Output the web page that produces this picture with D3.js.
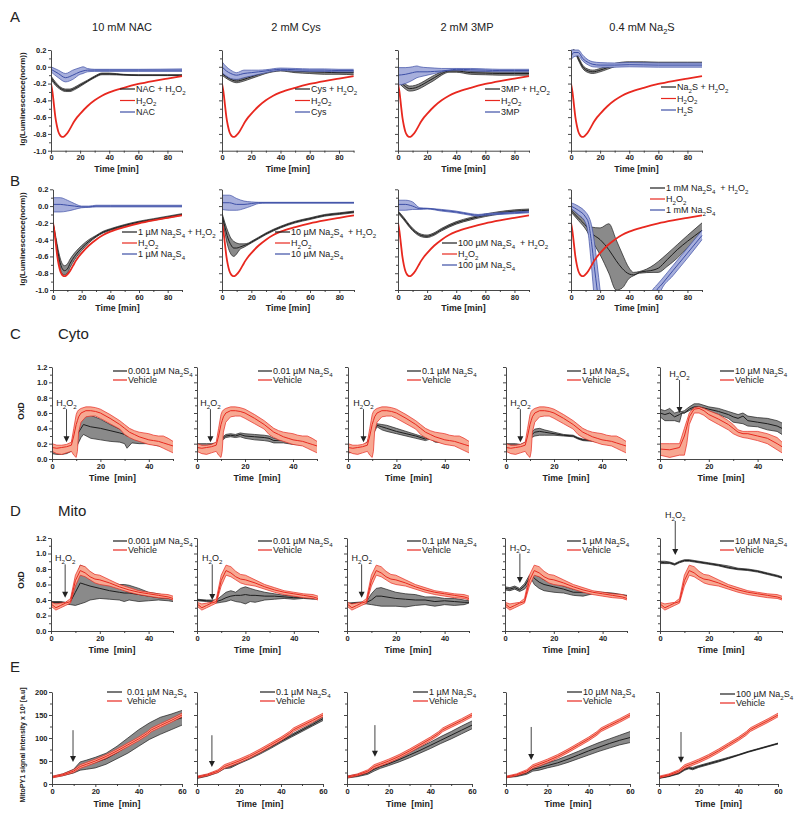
<!DOCTYPE html>
<html><head><meta charset="utf-8">
<script src="https://cdn.jsdelivr.net/npm/d3@7"></script>
<style>
body{margin:0;background:#fff}
svg{display:block}
text{font-family:"Liberation Sans",Arial,sans-serif;fill:#222}
</style>
</head><body>
<svg id="chart" width="800" height="819"></svg>
<script>
// ================= DATA =================
// tick values
const lumTicksY = [-1.0,-0.8,-0.6,-0.4,-0.2,0.0,0.2];
const lumMinorY = [-0.9,-0.7,-0.5,-0.3,-0.1,0.1];
const lumTicksX = [0,20,40,60,80];
const lumMinorX = [10,30,50,70,90];
const oxdTicksY = [0,0.2,0.4,0.6,0.8,1.0,1.2];
const oxdMinorY = [0.1,0.3,0.5,0.7,0.9,1.1];
const oxdTicksX = [0,20,40];
const oxdMinorX = [10,30,50];
const mpyTicksY = [0,50,100,150,200];
const mpyMinorY = [25,75,125,175];
const mpyTicksX = [0,20,40,60];
const mpyMinorX = [10,30,50];

// text
const titlesA = ['10 mM NAC','2 mM Cys','2 mM 3MP','0.4 mM Na_2S'];
const legendsA = [
  ['NAC + H_2O_2','H_2O_2','NAC'],
  ['Cys + H_2O_2','H_2O_2','Cys'],
  ['3MP + H_2O_2','H_2O_2','3MP'],
  ['Na_2S + H_2O_2','H_2O_2','H_2S']
];
const legendsB = [
  ['1 µM Na_2S_4 + H_2O_2','H_2O_2','1 µM Na_2S_4'],
  ['10 µM Na_2S_4  + H_2O_2','H_2O_2','10 µM Na_2S_4'],
  ['100 µM Na_2S_4  + H_2O_2','H_2O_2','100 µM Na_2S_4'],
  ['1 mM Na_2S_4  + H_2O_2','H_2O_2','1 mM Na_2S_4']
];
const concC = ['0.001','0.01','0.1','1','10'];
const concE = ['0.01','0.1','1','10','100'];

// ---- Row A / B : lg(Luminescence(norm)) vs time ; rows [t, mean, lo, hi] ----
const h2o2Lum = [[0,-0.2],[1,-0.3],[2,-0.45],[3,-0.6],[4,-0.7],[5,-0.77],[6,-0.81],[7,-0.83],[8,-0.835],[9,-0.83],[10,-0.815],[12,-0.77],[14,-0.71],[16,-0.65],[18,-0.6],[20,-0.56],[25,-0.47],[30,-0.4],[35,-0.345],[40,-0.305],[50,-0.25],[60,-0.205],[70,-0.17],[80,-0.14],[90,-0.11]];

const nacH2o2 = [[0,-0.13,-0.15,-0.11],[3,-0.2,-0.22,-0.18],[6,-0.25,-0.265,-0.235],[10,-0.28,-0.295,-0.265],[13,-0.28,-0.295,-0.265],[16,-0.26,-0.275,-0.245],[20,-0.22,-0.235,-0.205],[25,-0.17,-0.18,-0.16],[30,-0.12,-0.13,-0.11],[35,-0.085,-0.095,-0.075],[40,-0.085,-0.095,-0.075],[50,-0.095,-0.1,-0.09],[60,-0.1,-0.105,-0.095],[70,-0.1,-0.105,-0.095],[80,-0.1,-0.105,-0.095],[90,-0.1,-0.105,-0.095]];
const nacOnly = [[0,-0.03,-0.06,0.0],[5,-0.08,-0.13,-0.04],[10,-0.13,-0.18,-0.08],[15,-0.1,-0.15,-0.04],[20,-0.06,-0.09,-0.01],[22,-0.05,-0.08,0.0],[25,-0.04,-0.06,-0.02],[30,-0.04,-0.055,-0.03],[40,-0.04,-0.055,-0.03],[60,-0.04,-0.055,-0.03],[90,-0.04,-0.055,-0.025]];

const cysH2o2 = [[0,-0.08,-0.1,-0.05],[5,-0.14,-0.16,-0.12],[10,-0.17,-0.19,-0.15],[15,-0.15,-0.17,-0.13],[20,-0.12,-0.14,-0.1],[25,-0.09,-0.11,-0.07],[30,-0.06,-0.08,-0.045],[35,-0.045,-0.06,-0.035],[40,-0.04,-0.05,-0.03],[50,-0.05,-0.07,-0.035],[60,-0.06,-0.08,-0.04],[70,-0.065,-0.09,-0.045],[80,-0.07,-0.09,-0.05],[90,-0.07,-0.095,-0.05]];
const cysOnly = [[0,0.0,-0.07,0.06],[3,-0.05,-0.11,0.0],[6,-0.08,-0.14,-0.04],[10,-0.1,-0.15,-0.07],[15,-0.08,-0.13,-0.04],[20,-0.07,-0.11,-0.04],[25,-0.06,-0.09,-0.04],[30,-0.05,-0.07,-0.035],[40,-0.03,-0.045,-0.015],[50,-0.035,-0.05,-0.02],[60,-0.04,-0.055,-0.025],[70,-0.04,-0.055,-0.025],[80,-0.045,-0.06,-0.03],[90,-0.045,-0.06,-0.03]];

const mpH2o2 = [[0,-0.15,-0.18,-0.12],[4,-0.22,-0.25,-0.19],[8,-0.26,-0.29,-0.23],[12,-0.25,-0.28,-0.22],[16,-0.22,-0.25,-0.19],[20,-0.18,-0.21,-0.15],[25,-0.13,-0.16,-0.1],[30,-0.08,-0.1,-0.06],[35,-0.05,-0.065,-0.035],[40,-0.05,-0.065,-0.035],[50,-0.07,-0.09,-0.05],[60,-0.075,-0.095,-0.055],[70,-0.08,-0.1,-0.06],[80,-0.08,-0.1,-0.06],[90,-0.08,-0.1,-0.06]];
const mpOnly = [[0,-0.1,-0.22,-0.01],[5,-0.09,-0.2,-0.01],[10,-0.07,-0.16,0.0],[13,-0.06,-0.13,0.01],[15,-0.06,-0.12,0.0],[20,-0.06,-0.1,-0.01],[25,-0.055,-0.08,-0.015],[30,-0.05,-0.06,-0.02],[35,-0.04,-0.045,-0.02],[40,-0.03,-0.04,-0.02],[50,-0.035,-0.05,-0.02],[60,-0.04,-0.055,-0.025],[70,-0.045,-0.06,-0.03],[80,-0.045,-0.06,-0.03],[90,-0.045,-0.06,-0.03]];

const naSH2o2 = [[0,0.17,0.15,0.19],[2,0.2,0.19,0.2],[5,0.1,0.08,0.12],[8,0.0,-0.02,0.02],[12,-0.05,-0.07,-0.03],[15,-0.06,-0.08,-0.04],[20,-0.04,-0.06,-0.02],[25,-0.01,-0.03,0.01],[30,0.02,0.0,0.04],[40,0.04,0.02,0.06],[50,0.04,0.02,0.06],[60,0.035,0.015,0.055],[70,0.035,0.015,0.055],[80,0.035,0.015,0.055],[90,0.035,0.015,0.055]];
const h2sOnly = [[0,0.12,0.08,0.2],[2,0.17,0.12,0.2],[5,0.17,0.13,0.2],[8,0.1,0.07,0.14],[12,0.05,0.02,0.08],[15,0.03,0.0,0.06],[20,0.02,-0.005,0.05],[30,0.02,-0.005,0.045],[40,0.025,0.0,0.05],[60,0.02,-0.005,0.045],[90,0.02,-0.005,0.045]];

const s4_1uM_H2o2 = [[0,-0.2,-0.21,-0.19],[2,-0.4,-0.43,-0.37],[4,-0.6,-0.65,-0.55],[6,-0.73,-0.8,-0.67],[8,-0.77,-0.82,-0.71],[10,-0.75,-0.8,-0.69],[12,-0.68,-0.73,-0.63],[15,-0.6,-0.64,-0.56],[20,-0.5,-0.53,-0.47],[25,-0.42,-0.44,-0.4],[30,-0.36,-0.37,-0.35],[35,-0.31,-0.32,-0.3],[40,-0.28,-0.29,-0.27],[50,-0.23,-0.24,-0.22],[60,-0.19,-0.2,-0.18],[70,-0.16,-0.17,-0.15],[80,-0.13,-0.14,-0.12],[90,-0.1,-0.11,-0.09]];
const s4_1uM = [[0,0.02,-0.07,0.1],[5,0.02,-0.07,0.1],[10,0.01,-0.06,0.07],[15,0.0,-0.04,0.03],[20,-0.01,-0.02,0.0],[25,-0.01,-0.015,0.0],[30,0.0,-0.01,0.01],[40,0.0,-0.01,0.01],[60,0.0,-0.01,0.01],[90,0.0,-0.01,0.01]];

const s4_10uM_H2o2 = [[0,-0.1,-0.13,-0.08],[2,-0.25,-0.32,-0.2],[4,-0.38,-0.48,-0.3],[6,-0.46,-0.57,-0.38],[8,-0.5,-0.6,-0.42],[10,-0.5,-0.57,-0.44],[12,-0.49,-0.52,-0.45],[15,-0.47,-0.49,-0.45],[18,-0.45,-0.46,-0.44],[20,-0.43,-0.44,-0.42],[25,-0.38,-0.39,-0.37],[30,-0.33,-0.34,-0.32],[40,-0.25,-0.26,-0.24],[50,-0.19,-0.2,-0.18],[60,-0.15,-0.16,-0.14],[70,-0.11,-0.12,-0.1],[80,-0.09,-0.1,-0.08],[90,-0.07,-0.08,-0.06]];
const s4_10uM = [[0,0.04,-0.04,0.13],[5,0.04,-0.05,0.13],[10,0.02,-0.05,0.09],[15,0.02,-0.03,0.06],[20,0.03,0.0,0.05],[25,0.04,0.03,0.045],[30,0.04,0.035,0.045],[90,0.04,0.035,0.045]];

const s4_100uM_H2o2 = [[0,-0.07,-0.085,-0.055],[4,-0.15,-0.165,-0.135],[8,-0.24,-0.255,-0.225],[12,-0.31,-0.325,-0.295],[16,-0.35,-0.365,-0.335],[20,-0.36,-0.375,-0.345],[24,-0.34,-0.355,-0.325],[30,-0.28,-0.295,-0.265],[40,-0.2,-0.215,-0.185],[50,-0.15,-0.165,-0.135],[60,-0.11,-0.125,-0.095],[70,-0.08,-0.095,-0.065],[80,-0.06,-0.075,-0.045],[90,-0.05,-0.065,-0.035]];
const s4_100uM = [[0,0.02,-0.05,0.07],[5,0.02,-0.05,0.07],[10,0.0,-0.04,0.05],[15,-0.03,-0.04,-0.02],[20,-0.03,-0.035,-0.025],[30,-0.05,-0.06,-0.04],[40,-0.07,-0.08,-0.06],[50,-0.1,-0.11,-0.09],[55,-0.11,-0.12,-0.1],[60,-0.1,-0.11,-0.09],[70,-0.09,-0.1,-0.08],[80,-0.08,-0.09,-0.07],[90,-0.07,-0.08,-0.06]];

const s4_1mM_H2o2 = [[0,-0.05,-0.07,-0.03],[5,-0.14,-0.17,-0.1],[11,-0.25,-0.3,-0.2],[14,-0.32,-0.4,-0.25],[20,-0.4,-0.58,-0.26],[26,-0.52,-0.8,-0.21],[31,-0.65,-1.0,-0.4],[35,-0.74,-0.98,-0.56],[40,-0.81,-0.86,-0.74],[43,-0.82,-0.83,-0.79],[47,-0.79,-0.8,-0.78],[57,-0.76,-0.79,-0.7],[60,-0.74,-0.79,-0.66],[66,-0.64,-0.72,-0.57],[73,-0.52,-0.62,-0.46],[80,-0.42,-0.5,-0.35],[90,-0.29,-0.37,-0.2]];
const s4_1mM = [[0,0.0,-0.03,0.04],[5,-0.05,-0.1,0.0],[10,-0.13,-0.2,-0.07],[12,-0.2,-0.35,-0.12],[14,-0.42,-0.7,-0.22],[16,-0.72,-1.1,-0.42],[18,-1.0,-1.4,-0.7],[20,-1.3,-1.7,-1.0],[22,-1.6,-2.0,-1.3],[35,-2.0,-2.0,-2.0],[50,-1.5,-1.7,-1.3],[56,-1.13,-1.25,-1.0],[59,-1.0,-1.13,-0.94],[62,-0.94,-1.0,-0.88],[70,-0.77,-0.83,-0.71],[80,-0.56,-0.62,-0.5],[90,-0.35,-0.4,-0.29]];

// ---- Row C : Cyto OxD ----
const cytoVehicle = [[0,0.15,0.1,0.2],[2,0.14,0.07,0.18],[4,0.15,0.06,0.18],[6,0.16,0.08,0.19],[8,0.18,0.1,0.22],[9,0.3,0.05,0.4],[10,0.45,0.02,0.58],[10.5,0.5,0.1,0.62],[11,0.55,0.35,0.64],[12,0.6,0.48,0.66],[14,0.63,0.55,0.68],[16,0.63,0.56,0.68],[18,0.62,0.56,0.67],[20,0.6,0.53,0.65],[24,0.53,0.46,0.58],[28,0.45,0.39,0.5],[30,0.4,0.32,0.45],[32,0.35,0.28,0.4],[34,0.32,0.25,0.37],[36,0.29,0.23,0.35],[38,0.27,0.21,0.34],[40,0.25,0.19,0.33],[42,0.24,0.18,0.31],[44,0.23,0.17,0.3],[46,0.21,0.14,0.3],[48,0.19,0.11,0.27],[50,0.17,0.08,0.23]];
const cytoVehicle10 = [[0,0.13,0.05,0.2],[4,0.12,0.02,0.2],[8,0.15,0.05,0.2],[10,0.3,0.05,0.4],[11,0.42,0.2,0.5],[12,0.55,0.45,0.6],[14,0.65,0.6,0.67],[16,0.66,0.6,0.68],[18,0.63,0.57,0.66],[20,0.58,0.52,0.63],[24,0.52,0.45,0.58],[28,0.45,0.38,0.5],[30,0.4,0.33,0.45],[32,0.35,0.3,0.38],[34,0.33,0.28,0.36],[36,0.33,0.27,0.36],[40,0.3,0.24,0.36],[44,0.27,0.2,0.33],[48,0.2,0.12,0.28],[50,0.16,0.08,0.22]];
const cyto0001 = [[0,0.1,0.07,0.14],[2,0.1,0.06,0.15],[4,0.1,0.06,0.15],[6,0.11,0.07,0.15],[8,0.15,0.1,0.2],[10,0.3,0.15,0.45],[12,0.4,0.28,0.55],[13,0.45,0.32,0.57],[16,0.42,0.27,0.57],[20,0.4,0.25,0.52],[24,0.37,0.23,0.45],[28,0.34,0.22,0.39],[30,0.32,0.2,0.34],[31,0.3,0.14,0.33],[33,0.3,0.21,0.32],[36,0.27,0.2,0.3],[40,0.23,0.2,0.26],[44,0.21,0.17,0.23],[48,0.19,0.16,0.21],[50,0.18,0.15,0.2]];
const cyto001 = [[0,0.17,0.13,0.2],[4,0.17,0.14,0.2],[6,0.19,0.16,0.2],[8,0.19,0.17,0.21],[10,0.25,0.23,0.27],[12,0.3,0.28,0.32],[14,0.31,0.29,0.33],[16,0.3,0.28,0.32],[18,0.32,0.29,0.34],[20,0.3,0.27,0.33],[24,0.29,0.25,0.32],[28,0.28,0.24,0.31],[30,0.27,0.23,0.3],[32,0.24,0.21,0.27],[36,0.25,0.21,0.28],[40,0.22,0.19,0.25],[44,0.21,0.18,0.24],[48,0.19,0.16,0.22],[50,0.18,0.16,0.2]];
const cyto01 = [[0,0.12,0.08,0.15],[4,0.12,0.09,0.15],[6,0.13,0.1,0.16],[8,0.2,0.17,0.23],[10,0.35,0.3,0.4],[12,0.44,0.42,0.46],[14,0.42,0.38,0.45],[16,0.4,0.36,0.44],[20,0.36,0.33,0.4],[24,0.33,0.3,0.36],[28,0.3,0.27,0.32],[32,0.26,0.24,0.28],[34,0.29,0.26,0.31],[36,0.24,0.22,0.26],[40,0.23,0.21,0.25],[44,0.22,0.2,0.24],[48,0.2,0.18,0.22],[50,0.18,0.17,0.2]];
const cyto1 = [[0,0.18,0.16,0.2],[4,0.18,0.16,0.2],[6,0.17,0.15,0.19],[8,0.2,0.18,0.22],[10,0.3,0.27,0.33],[12,0.35,0.3,0.39],[14,0.36,0.31,0.4],[16,0.35,0.31,0.38],[20,0.33,0.31,0.35],[24,0.31,0.3,0.32],[28,0.3,0.29,0.31],[30,0.27,0.26,0.28],[32,0.25,0.24,0.26],[36,0.24,0.23,0.25],[40,0.22,0.21,0.23],[44,0.22,0.21,0.23],[48,0.2,0.19,0.21],[50,0.19,0.18,0.2]];
const cyto10 = [[0,0.6,0.55,0.65],[2,0.58,0.5,0.63],[4,0.6,0.5,0.66],[6,0.55,0.5,0.6],[8,0.58,0.48,0.62],[9,0.6,0.6,0.62],[10,0.6,0.6,0.63],[12,0.65,0.63,0.68],[14,0.68,0.66,0.72],[16,0.68,0.66,0.72],[20,0.65,0.62,0.68],[24,0.62,0.58,0.66],[28,0.58,0.53,0.62],[30,0.55,0.48,0.6],[32,0.53,0.47,0.58],[34,0.56,0.46,0.6],[36,0.5,0.43,0.56],[40,0.48,0.42,0.54],[44,0.46,0.38,0.53],[48,0.43,0.36,0.5],[50,0.4,0.32,0.47]];

// ---- Row D : Mito OxD ----
const mitoVehicle = [[0,0.35,0.32,0.37],[2,0.3,0.27,0.35],[4,0.33,0.3,0.36],[6,0.36,0.33,0.37],[8,0.38,0.36,0.42],[10,0.65,0.58,0.72],[12,0.78,0.72,0.85],[14,0.75,0.7,0.83],[16,0.7,0.66,0.77],[18,0.67,0.62,0.73],[20,0.66,0.6,0.72],[24,0.62,0.58,0.66],[28,0.57,0.54,0.6],[32,0.53,0.5,0.56],[36,0.5,0.47,0.52],[40,0.48,0.45,0.5],[44,0.46,0.43,0.48],[48,0.44,0.42,0.47],[50,0.42,0.4,0.45]];
const mito0001 = [[0,0.37,0.36,0.38],[4,0.37,0.36,0.38],[6,0.36,0.35,0.37],[8,0.38,0.34,0.4],[10,0.5,0.33,0.65],[12,0.62,0.35,0.85],[14,0.6,0.37,0.82],[16,0.58,0.4,0.76],[20,0.55,0.42,0.68],[24,0.52,0.41,0.63],[28,0.5,0.4,0.6],[30,0.49,0.38,0.6],[32,0.49,0.4,0.59],[36,0.47,0.38,0.55],[40,0.45,0.39,0.5],[44,0.43,0.4,0.48],[48,0.42,0.39,0.45],[50,0.41,0.38,0.43]];
const mito001 = [[0,0.4,0.39,0.41],[4,0.39,0.38,0.4],[8,0.38,0.36,0.4],[10,0.4,0.37,0.45],[12,0.43,0.38,0.5],[14,0.45,0.4,0.52],[16,0.46,0.38,0.5],[18,0.46,0.37,0.55],[20,0.47,0.35,0.57],[22,0.46,0.38,0.55],[24,0.46,0.37,0.53],[28,0.45,0.4,0.5],[32,0.45,0.41,0.48],[36,0.44,0.42,0.46],[40,0.43,0.41,0.45],[44,0.43,0.42,0.45],[48,0.42,0.41,0.44],[50,0.42,0.41,0.43]];
const mito01 = [[0,0.35,0.34,0.36],[4,0.36,0.35,0.37],[8,0.37,0.35,0.38],[10,0.4,0.34,0.48],[12,0.45,0.33,0.55],[14,0.45,0.32,0.56],[16,0.44,0.32,0.54],[20,0.42,0.32,0.5],[24,0.41,0.31,0.48],[28,0.4,0.33,0.47],[32,0.4,0.34,0.44],[36,0.38,0.32,0.44],[40,0.39,0.34,0.42],[44,0.38,0.33,0.42],[48,0.37,0.34,0.4],[50,0.37,0.36,0.39]];
const mito1 = [[0,0.55,0.53,0.57],[2,0.54,0.52,0.56],[4,0.56,0.54,0.58],[6,0.53,0.51,0.55],[8,0.58,0.54,0.61],[10,0.68,0.62,0.72],[11,0.72,0.66,0.75],[12,0.68,0.6,0.73],[14,0.63,0.55,0.7],[16,0.6,0.52,0.66],[20,0.57,0.5,0.62],[24,0.54,0.49,0.58],[28,0.5,0.46,0.54],[32,0.5,0.45,0.52],[36,0.5,0.48,0.51],[40,0.49,0.48,0.5],[44,0.48,0.47,0.49],[48,0.46,0.45,0.47],[50,0.45,0.44,0.46]];
const mito10 = [[0,0.89,0.87,0.9],[2,0.88,0.87,0.9],[4,0.88,0.87,0.89],[6,0.86,0.85,0.87],[8,0.89,0.88,0.9],[10,0.91,0.9,0.92],[12,0.91,0.9,0.92],[14,0.9,0.89,0.91],[16,0.89,0.88,0.9],[20,0.87,0.86,0.88],[24,0.85,0.84,0.86],[28,0.82,0.81,0.84],[32,0.8,0.79,0.81],[36,0.79,0.78,0.8],[40,0.77,0.76,0.78],[44,0.74,0.73,0.75],[48,0.71,0.7,0.72],[50,0.69,0.68,0.7]];

// ---- Row E : MitoPY1 signal ----
const mpyVehicle = [[0,15,13,17],[5,20,18,22],[10,28,25,31],[13,38,34,42],[16,43,39,47],[20,50,46,54],[25,60,56,64],[30,72,68,76],[35,85,81,89],[40,98,94,102],[44,110,106,114],[46,118,114,122],[50,127,123,131],[55,138,134,142],[60,150,146,154]];
const mpy001 = [[0,15,14,16],[5,20,18,22],[10,28,24,32],[13,39,30,48],[16,42,32,52],[20,47,35,58],[25,55,43,67],[30,68,55,82],[35,83,67,100],[40,100,82,118],[45,115,97,133],[50,127,108,145],[55,137,118,152],[60,144,128,160]];
const mpy01 = [[0,14,12,16],[5,19,17,21],[10,27,25,29],[13,36,33,39],[16,38,35,42],[20,47,44,50],[25,57,54,60],[30,68,65,71],[35,80,77,83],[40,93,90,96],[45,105,102,108],[50,117,114,120],[55,129,126,132],[60,142,138,146]];
const mpy1 = [[0,15,13,17],[5,18,16,21],[10,24,21,28],[13,32,28,37],[16,38,34,42],[20,44,40,48],[25,53,48,58],[30,63,57,69],[35,73,67,80],[40,84,77,91],[45,95,88,103],[50,106,98,114],[55,117,109,126],[60,128,120,137]];
const mpy10 = [[0,15,14,16],[5,18,16,20],[10,24,21,27],[13,32,28,36],[16,35,30,40],[20,40,35,46],[25,46,40,53],[30,54,47,62],[35,63,55,71],[40,72,63,81],[45,80,71,90],[50,88,78,98],[55,95,85,106],[60,101,90,114]];
const mpy100 = [[0,13,12,15],[5,17,16,19],[10,24,22,26],[13,32,30,35],[15,35,33,37],[17,33,31,36],[20,38,36,40],[25,44,42,46],[30,50,48,52],[35,56,55,58],[40,63,62,64],[45,70,69,71],[50,76,75,77],[55,82,81,83],[60,88,87,89]];

// ---- H2O2 addition arrows: [time, value at arrow top, value at tip] ----
const cytoArrows = [[6,0.65,0.22],[5.6,0.65,0.22],[6.4,0.65,0.22],[6,0.65,0.22],[8,1.03,0.6]];
const mitoArrows = [[5.8,0.86,0.43],[6.3,0.86,0.4],[6,0.86,0.43],[6.1,1.0,0.62],[6.25,1.42,0.98]];
const mpyArrows = [[9.7,117,48],[7.1,106,37],[13.4,128,59],[12.2,124,52],[11.1,113,46]];

// ================= DRAWING =================
const svg = d3.select('#chart');
const COL = {
  k:{line:'#1e1e1e', fill:'#8a8a8a'},
  r:{line:'#e8281f', fill:'#f7a892'},
  b:{line:'#3d4fa6', fill:'#a7afdc'}
};
const FONT = '"Liberation Sans",Arial,sans-serif';

function richText(g, str, x, y, size, opts) {
  opts = opts || {};
  const t = g.append('text').attr('x',x).attr('y',y).attr('font-size',size)
    .style('white-space','pre').attr('text-anchor', opts.anchor || 'start')
    .attr('font-weight', opts.weight || 'normal');
  if (opts.transform) t.attr('transform', opts.transform);
  const parts = []; const re = /_(.)/g; let last = 0, m;
  while ((m = re.exec(str))) {
    if (m.index > last) parts.push({t:str.slice(last,m.index), s:false});
    parts.push({t:m[1], s:true}); last = re.lastIndex;
  }
  if (last < str.length) parts.push({t:str.slice(last), s:false});
  let cur = 0;
  parts.forEach(p => {
    const off = p.s ? size*0.3 : 0;
    const ts = t.append('tspan').attr('dy', off - cur).text(p.t);
    if (p.s) ts.attr('font-size', size*0.68);
    cur = off;
  });
  return t;
}

let clipN = 0;
function drawPanel(p) {
  const x = d3.scaleLinear().domain(p.xd).range([p.x0, p.x1]);
  const y = d3.scaleLinear().domain(p.yd).range([p.yb, p.yt]);
  const g = svg.append('g');
  const cid = 'cl' + (clipN++);
  g.append('clipPath').attr('id', cid).append('rect')
    .attr('x', p.x0).attr('y', p.yt - 2).attr('width', p.x1 - p.x0 + 1).attr('height', p.yb - p.yt + 2);
  const pg = g.append('g').attr('clip-path', `url(#${cid})`);
  const curve = p.curve || d3.curveLinear;
  p.series.forEach(s => {
    const c = COL[s.c];
    if (s.d[0].length === 4) {
      pg.append('path').datum(s.d)
        .attr('d', d3.area().x(d => x(d[0])).y0(d => y(d[2])).y1(d => y(d[3])).curve(curve))
        .attr('fill', c.fill).attr('stroke', 'none');
      [2,3].forEach(i => pg.append('path').datum(s.d)
        .attr('d', d3.line().x(d => x(d[0])).y(d => y(d[i])).curve(curve))
        .attr('fill','none').attr('stroke', c.line).attr('stroke-width', 0.7));
    }
    pg.append('path').datum(s.d)
      .attr('d', d3.line().x(d => x(d[0])).y(d => y(d[1])).curve(curve))
      .attr('fill','none').attr('stroke', c.line).attr('stroke-width', s.w || 1);
  });
  // axes
  const axX = g.append('g').attr('transform', `translate(0,${p.yb})`)
    .call(d3.axisBottom(x).tickValues(p.xt).tickSize(3).tickSizeOuter(0).tickPadding(1.2).tickFormat(d3.format('d')));
  const axXm = g.append('g').attr('transform', `translate(0,${p.yb})`)
    .call(d3.axisBottom(x).tickValues(p.xm).tickSize(2).tickSizeOuter(0).tickFormat(''));
  axXm.select('.domain').remove();
  const axY = g.append('g').attr('transform', `translate(${p.x0},0)`)
    .call(d3.axisLeft(y).tickValues(p.ytk).tickSize(3).tickSizeOuter(0).tickPadding(1.5)
      .tickFormat(p.ylab ? p.fmt : ''));
  const axYm = g.append('g').attr('transform', `translate(${p.x0},0)`)
    .call(d3.axisLeft(y).tickValues(p.ym).tickSize(2).tickSizeOuter(0).tickFormat(''));
  axYm.select('.domain').remove();
  [axX, axXm, axY, axYm].forEach(a => {
    a.attr('font-family', FONT).attr('font-size', p.tfs || 7.5).attr('font-weight', 'bold');
    a.selectAll('path,line').attr('stroke', '#333').attr('stroke-width', 0.9);
    a.selectAll('text').attr('fill', '#222');
  });
  // x-axis title
  g.append('text').attr('x', (p.x0 + p.x1)/2).attr('y', p.yb + p.titleDy)
    .attr('text-anchor','middle').attr('font-size', 8.8).attr('font-weight','bold')
    .style('white-space','pre').text(p.xtitle);
  return {x, y, g};
}

function legend(items, x, y, dy, fs, len, gap) {
  items.forEach((it, i) => {
    const yy = y + i*dy;
    svg.append('line').attr('x1', x).attr('x2', x + len).attr('y1', yy).attr('y2', yy)
      .attr('stroke', COL[it.c].line).attr('stroke-width', 1.2);
    richText(svg, it.t, x + len + gap, yy + fs*0.35, fs);
  });
}

function arrow(px, t, v0, v1, label, labelGap) {
  const X = px.x(t), Y0 = px.y(v0), Y1 = px.y(v1);
  svg.append('line').attr('x1', X).attr('x2', X).attr('y1', Y0).attr('y2', Y1 - 5)
    .attr('stroke', '#444').attr('stroke-width', 1);
  svg.append('path').attr('d', `M${X-3},${Y1-6} L${X+3},${Y1-6} L${X},${Y1} Z`).attr('fill', '#222');
  if (label) richText(svg, 'H_2O_2', X, Y0 - (labelGap || 3), 9, {anchor:'middle'});
}

const lumFmt = v => v.toFixed(1);
const lumCurve = d3.curveMonotoneX;

// ---------- Row A ----------
const rowA = {yt:50, yb:150.7, xs:[[51,182],[222,353.6],[398,529],[571,702]]};
const seriesA = [
  [{c:'k', d:nacH2o2}, {c:'b', d:nacOnly}, {c:'r', d:h2o2Lum, w:1.8}],
  [{c:'k', d:cysH2o2}, {c:'b', d:cysOnly}, {c:'r', d:h2o2Lum, w:1.8}],
  [{c:'k', d:mpH2o2}, {c:'b', d:mpOnly}, {c:'r', d:h2o2Lum, w:1.8}],
  [{c:'k', d:naSH2o2}, {c:'b', d:h2sOnly}, {c:'r', d:h2o2Lum, w:1.8}]
];
const legXA = [120, 295, 485, 661];
const legYA = [89, 89, 89, 87];
rowA.xs.forEach((xr, i) => {
  drawPanel({x0:xr[0], x1:xr[1], yt:rowA.yt, yb:rowA.yb, xd:[0,90], yd:[-1,0.2],
    xt:lumTicksX, xm:lumMinorX, ytk:lumTicksY, ym:lumMinorY, ylab:i===0, fmt:lumFmt,
    series:seriesA[i], curve:lumCurve, xtitle:'Time [min]', titleDy:21});
  richText(svg, titlesA[i], [122,296,467,642][i], 31, 11, {anchor:'middle'}).attr('fill','#333');
  legend(legendsA[i].map((t,j) => ({t, c:['k','r','b'][j]})), legXA[i], legYA[i], 11.5, 9, 15, 1);
});

// ---------- Row B ----------
const rowB = {yt:189.3, yb:290, xs:[[53,182],[222,354],[398,529],[571,702]]};
const seriesB = [
  [{c:'k', d:s4_1uM_H2o2}, {c:'b', d:s4_1uM}, {c:'r', d:h2o2Lum, w:1.8}],
  [{c:'k', d:s4_10uM_H2o2}, {c:'b', d:s4_10uM}, {c:'r', d:h2o2Lum, w:1.8}],
  [{c:'k', d:s4_100uM_H2o2}, {c:'b', d:s4_100uM}, {c:'r', d:h2o2Lum, w:1.8}],
  [{c:'k', d:s4_1mM_H2o2}, {c:'b', d:s4_1mM}, {c:'r', d:h2o2Lum, w:1.8}]
];
const legPosB = [[122,232,11],[275,232,11],[442,243,11],[650,188,11]];
rowB.xs.forEach((xr, i) => {
  drawPanel({x0:xr[0], x1:xr[1], yt:rowB.yt, yb:rowB.yb, xd:[0,90], yd:[-1,0.2],
    xt:lumTicksX, xm:lumMinorX, ytk:lumTicksY, ym:lumMinorY, ylab:i===0, fmt:lumFmt,
    series:seriesB[i], curve:lumCurve, xtitle:'Time [min]', titleDy:21});
  legend(legendsB[i].map((t,j) => ({t, c:['k','r','b'][j]})), legPosB[i][0], legPosB[i][1], legPosB[i][2], 9, 15, 1);
});

// y labels rows A,B
richText(svg, 'lg(Luminescence(norm))', 0, 0, 8, {anchor:'middle', weight:'bold', transform:'translate(25,99) rotate(-90)'});
richText(svg, 'lg(Luminescence(norm))', 0, 0, 8, {anchor:'middle', weight:'bold', transform:'translate(25,239) rotate(-90)'});

// ---------- Row C ----------
const rowC = {yt:367, yb:459, xs:[[52,173],[197,317],[348,469],[506,626],[660,782]]};
const seriesC = [cyto0001, cyto001, cyto01, cyto1, cyto10];
const vehC = [cytoVehicle, cytoVehicle, cytoVehicle, cytoVehicle, cytoVehicle10];
const legXC = [113, 258, 407, 567, 720];
rowC.xs.forEach((xr, i) => {
  const px = drawPanel({x0:xr[0], x1:xr[1], yt:rowC.yt, yb:rowC.yb, xd:[0,50], yd:[0,1.2],
    xt:oxdTicksX, xm:oxdMinorX, ytk:oxdTicksY, ym:oxdMinorY, ylab:i===0, fmt:lumFmt,
    series:[{c:'k', d:seriesC[i]}, {c:'r', d:vehC[i]}], xtitle:'Time  [min]', titleDy:22});
  legend([{t:concC[i] + ' µM Na_2S_4', c:'k'}, {t:'Vehicle', c:'r'}], legXC[i], 371, 9, 9, 14, 1);
  arrow(px, cytoArrows[i][0], cytoArrows[i][1], cytoArrows[i][2], true, 3);
});
svg.append('text').attr('x',0).attr('y',0).attr('font-size',8.5).attr('font-weight','bold')
  .attr('text-anchor','middle').attr('transform','translate(24,411) rotate(-90)').text('OxD');

// ---------- Row D ----------
const rowD = {yt:538, yb:631, xs:[[51,173],[197,318],[347,469],[505,627],[660,782]]};
const seriesD = [mito0001, mito001, mito01, mito1, mito10];
rowD.xs.forEach((xr, i) => {
  const px = drawPanel({x0:xr[0], x1:xr[1], yt:rowD.yt, yb:rowD.yb, xd:[0,50], yd:[0,1.2],
    xt:oxdTicksX, xm:oxdMinorX, ytk:oxdTicksY, ym:oxdMinorY, ylab:i===0, fmt:lumFmt,
    series:[{c:'k', d:seriesD[i]}, {c:'r', d:mitoVehicle}], xtitle:'Time  [min]', titleDy:22});
  legend([{t:concC[i] + ' µM Na_2S_4', c:'k'}, {t:'Vehicle', c:'r'}], legXC[i], 541, 9, 9, 14, 1);
  arrow(px, mitoArrows[i][0], mitoArrows[i][1], mitoArrows[i][2], true, 3);
});
svg.append('text').attr('x',0).attr('y',0).attr('font-size',8.5).attr('font-weight','bold')
  .attr('text-anchor','middle').attr('transform','translate(24,580) rotate(-90)').text('OxD');

// ---------- Row E ----------
const rowE = {yt:692, yb:784, xs:[[52,182],[197,323],[347,472],[506,630],[659,778]]};
const seriesE = [mpy001, mpy01, mpy1, mpy10, mpy100];
const legXE = [107, 260, 413, 567, 720];
const legYE = [692, 692, 692, 692, 694];
rowE.xs.forEach((xr, i) => {
  const px = drawPanel({x0:xr[0], x1:xr[1], yt:rowE.yt, yb:rowE.yb, xd:[0,60], yd:[0,200],
    xt:mpyTicksX, xm:mpyMinorX, ytk:mpyTicksY, ym:mpyMinorY, ylab:i===0, fmt:d3.format('d'),
    series:[{c:'k', d:seriesE[i]}, {c:'r', d:mpyVehicle}], xtitle:'Time  [min]', titleDy:23});
  legend([{t:concE[i] + ' µM Na_2S_4', c:'k'}, {t:'Vehicle', c:'r'}], legXE[i], legYE[i], 9, 9, 15, i===0 ? 5 : 1);
  arrow(px, mpyArrows[i][0], mpyArrows[i][1], mpyArrows[i][2], false);
});
svg.append('text').attr('x',0).attr('y',0).attr('font-size',7).attr('font-weight','bold')
  .attr('text-anchor','middle').attr('transform','translate(25,745) rotate(-90)')
  .text('MitoPY1 signal intensity x 10³ [a.u]');

// ---------- panel letters ----------
[['A',10,22],['B',10,186],['C',10,339],['D',10,516],['E',10,672]].forEach(l => {
  svg.append('text').attr('x', l[1]).attr('y', l[2]).attr('font-size', 15).text(l[0]);
});
svg.append('text').attr('x',58).attr('y',339).attr('font-size',15).text('Cyto');
svg.append('text').attr('x',58).attr('y',516).attr('font-size',15).text('Mito');
</script>
</body></html>
